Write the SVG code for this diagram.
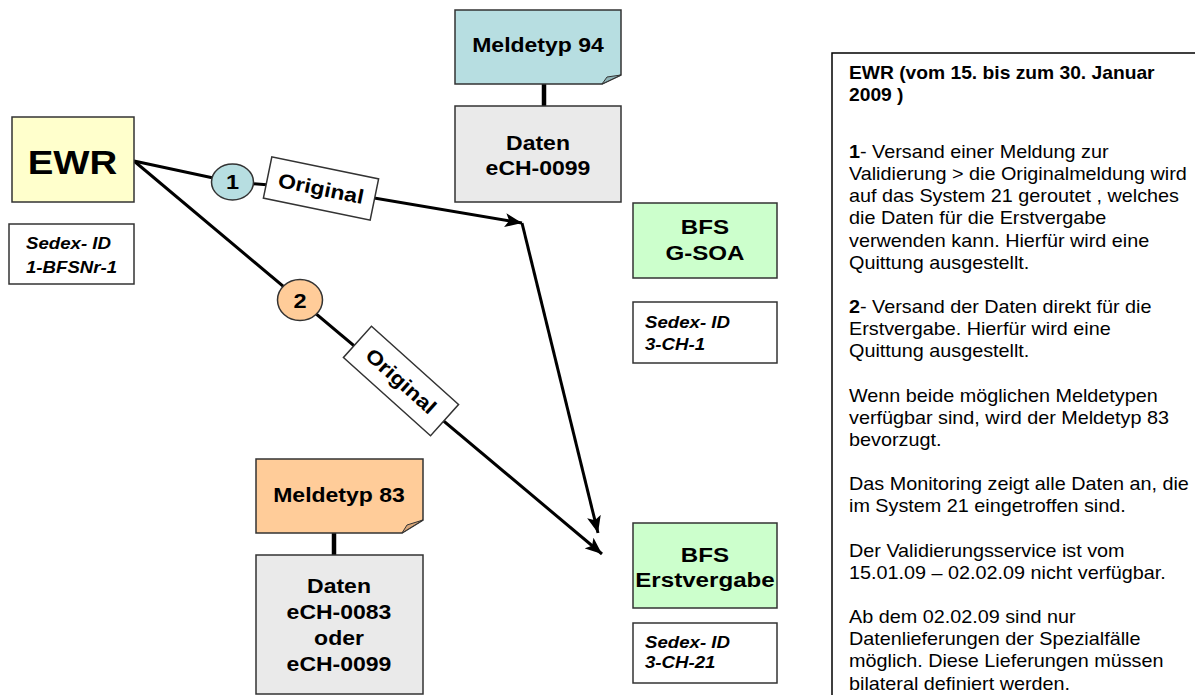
<svg xmlns="http://www.w3.org/2000/svg" width="1195" height="695" viewBox="0 0 1195 695">
<style>
  text { font-family: "Liberation Sans", Arial, sans-serif; fill: #000; }
  .box { stroke: #333; stroke-width: 1.5; }
  .b { font-weight: bold; }
  .lbl { font-weight: bold; font-size: 20px; text-anchor: middle; }
  .sedex { font-weight: bold; font-style: italic; font-size: 16.5px; }
  .conn { fill: none; stroke: #000; stroke-width: 3; }
  .stem { stroke: #000; stroke-width: 4.5; }
  .panel { font-size: 18px; }
</style>
<defs>
  <marker id="arr" markerUnits="userSpaceOnUse" markerWidth="18" markerHeight="14" refX="17" refY="7" orient="auto">
    <path d="M0,0 L17,7 L0,14 L4,7 Z" fill="#000"/>
  </marker>
</defs>
<rect width="1195" height="695" fill="#fff"/>

<g id="connectors">
  <path class="conn" d="M134,161 L232,182 L321,189 L522,223" marker-end="url(#arr)"/>
  <path class="conn" d="M522,223 L598,533" marker-end="url(#arr)"/>
  <path class="conn" d="M134,161 L602,554" marker-end="url(#arr)"/>
  <line class="stem" x1="544" y1="84" x2="544" y2="106"/>
  <line class="stem" x1="334" y1="533" x2="334" y2="555"/>
</g>

<g id="ewr">
  <rect class="box" x="12" y="117" width="122" height="85" fill="#FFFFCC"/>
  <text class="b" font-size="34" text-anchor="middle" transform="translate(72.5,0) scale(1.13,1)" x="0" y="174">EWR</text>
</g>

<g id="sedex-ewr">
  <rect class="box" x="9" y="224" width="125" height="60" fill="#fff"/>
  <text class="sedex" transform="translate(26,0) scale(1.13,1)"><tspan x="0" y="249">Sedex- ID</tspan><tspan x="0" y="273">1-BFSNr-1</tspan></text>
</g>

<g id="step1">
  <ellipse class="box" cx="232.5" cy="182" rx="21" ry="18" fill="#B7DEE1"/>
  <text class="b" font-size="21" text-anchor="middle" transform="translate(232.5,0) scale(1.12,1)" x="0" y="189.5">1</text>
</g>

<g id="label-original-1" transform="translate(321,188.5) rotate(11.6)">
  <rect class="box" x="-54.5" y="-21" width="109" height="42" fill="#fff" stroke-width="1.2"/>
  <text class="lbl" transform="scale(1.15,1)" x="0" y="7">Original</text>
</g>

<g id="step2">
  <ellipse class="box" cx="300" cy="300" rx="22.5" ry="20.5" fill="#FFCC99"/>
  <text class="b" font-size="21" text-anchor="middle" transform="translate(300,0) scale(1.12,1)" x="0" y="308">2</text>
</g>

<g id="label-original-2" transform="translate(401,381) rotate(41.9)">
  <rect class="box" x="-58.5" y="-21" width="117" height="42" fill="#fff" stroke-width="1.2"/>
  <text class="lbl" transform="scale(1.15,1)" x="0" y="7">Original</text>
</g>

<g id="meldetyp94">
  <path class="box" d="M455,10 L621,10 L621,75 L602,84 L455,84 Z" fill="#B7DEE1"/>
  <path d="M602,84 L607,77 L621,75 Z" fill="#8FB3B6" stroke="#333" stroke-width="1"/>
  <text class="lbl" transform="translate(538,0) scale(1.15,1)" x="0" y="52">Meldetyp 94</text>
</g>

<g id="daten94">
  <rect class="box" x="455" y="106" width="166" height="96" fill="#EAEAEA"/>
  <text class="lbl" transform="translate(538,0) scale(1.15,1)"><tspan x="0" y="150">Daten</tspan><tspan x="0" y="175">eCH-0099</tspan></text>
</g>

<g id="bfs-gsoa">
  <rect class="box" x="633" y="203" width="144" height="75" fill="#CCFFCC"/>
  <text class="lbl" font-size="21" style="font-size:21px" transform="translate(705,0) scale(1.15,1)"><tspan x="0" y="234">BFS</tspan><tspan x="0" y="260">G-SOA</tspan></text>
</g>

<g id="sedex-gsoa">
  <rect class="box" x="633" y="302" width="144" height="61" fill="#fff"/>
  <text class="sedex" transform="translate(645,0) scale(1.13,1)"><tspan x="0" y="328">Sedex- ID</tspan><tspan x="0" y="350">3-CH-1</tspan></text>
</g>

<g id="meldetyp83">
  <path class="box" d="M256,459 L423,459 L423,520 L402,533 L256,533 Z" fill="#FFCC99"/>
  <path d="M402,533 L407,525 L423,520 Z" fill="#D9A679" stroke="#333" stroke-width="1"/>
  <text class="lbl" transform="translate(339,0) scale(1.15,1)" x="0" y="502">Meldetyp 83</text>
</g>

<g id="daten83">
  <rect class="box" x="256" y="555" width="167" height="139" fill="#EAEAEA"/>
  <text class="lbl" transform="translate(339,0) scale(1.15,1)"><tspan x="0" y="593">Daten</tspan><tspan x="0" y="619">eCH-0083</tspan><tspan x="0" y="645">oder</tspan><tspan x="0" y="671">eCH-0099</tspan></text>
</g>

<g id="bfs-erstvergabe">
  <rect class="box" x="633" y="523" width="144" height="85" fill="#CCFFCC"/>
  <text class="lbl" style="font-size:21px" transform="translate(705,0) scale(1.15,1)"><tspan x="0" y="562">BFS</tspan><tspan x="0" y="587">Erstvergabe</tspan></text>
</g>

<g id="sedex-erstvergabe">
  <rect class="box" x="633" y="623" width="144" height="60" fill="#fff"/>
  <text class="sedex" transform="translate(645,0) scale(1.13,1)"><tspan x="0" y="648">Sedex- ID</tspan><tspan x="0" y="668">3-CH-21</tspan></text>
</g>

<g id="info-panel">
  <rect x="832" y="53" width="420" height="700" fill="#fff" stroke="#000" stroke-width="1.5"/>
  <text class="panel" transform="translate(849,0) scale(1.1,1)">
    <tspan class="b" style="font-size:17.5px" x="0" y="79">EWR (vom 15. bis zum 30. Januar</tspan>
    <tspan class="b" style="font-size:17.5px" x="0" y="101">2009 )</tspan>
    <tspan x="0" y="158"><tspan class="b">1</tspan>- Versand einer Meldung zur</tspan>
    <tspan x="0" y="180.2">Validierung &gt; die Originalmeldung wird</tspan>
    <tspan x="0" y="202.3">auf das System 21 geroutet , welches</tspan>
    <tspan x="0" y="224.5">die Daten für die Erstvergabe</tspan>
    <tspan x="0" y="246.6">verwenden kann. Hierfür wird eine</tspan>
    <tspan x="0" y="268.8">Quittung ausgestellt.</tspan>
    <tspan x="0" y="313.1"><tspan class="b">2</tspan>- Versand der Daten direkt für die</tspan>
    <tspan x="0" y="335.2">Erstvergabe. Hierfür wird eine</tspan>
    <tspan x="0" y="357.4">Quittung ausgestellt.</tspan>
    <tspan x="0" y="401.7">Wenn beide möglichen Meldetypen</tspan>
    <tspan x="0" y="423.8">verfügbar sind, wird der Meldetyp 83</tspan>
    <tspan x="0" y="446">bevorzugt.</tspan>
    <tspan x="0" y="490.3">Das Monitoring zeigt alle Daten an, die</tspan>
    <tspan x="0" y="512.4">im System 21 eingetroffen sind.</tspan>
    <tspan x="0" y="556.7">Der Validierungsservice ist vom</tspan>
    <tspan x="0" y="578.9">15.01.09 – 02.02.09 nicht verfügbar.</tspan>
    <tspan x="0" y="623.2">Ab dem 02.02.09 sind nur</tspan>
    <tspan x="0" y="645.3">Datenlieferungen der Spezialfälle</tspan>
    <tspan x="0" y="667.5">möglich. Diese Lieferungen müssen</tspan>
    <tspan x="0" y="689.6">bilateral definiert werden.</tspan>
  </text>
</g>
</svg>
